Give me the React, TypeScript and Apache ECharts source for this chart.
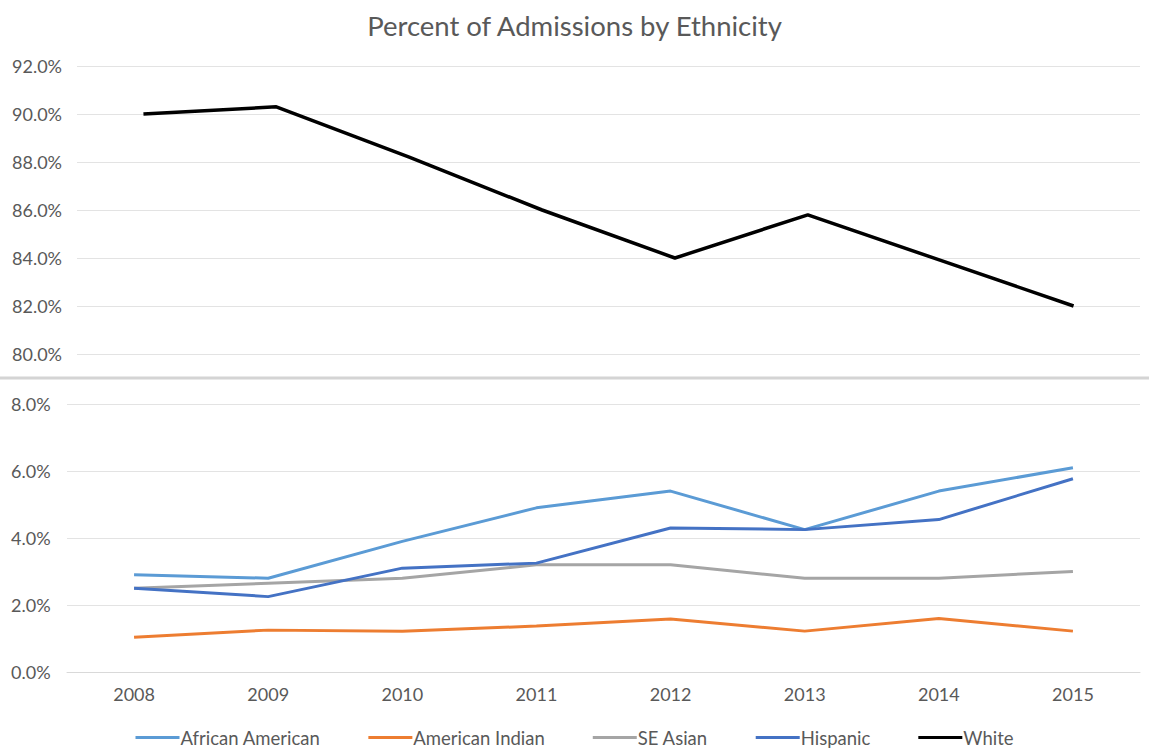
import React, { useEffect, useRef } from "react";
import * as echarts from "echarts";

const years = ["2008", "2009", "2010", "2011", "2012", "2013", "2014", "2015"];
const white = [90.0, 90.3, 88.2, 86.0, 84.0, 85.8, 83.9, 82.0];
const africanAmerican = [2.9, 2.8, 3.9, 4.9, 5.4, 4.25, 5.4, 6.1];
const americanIndian = [1.04, 1.25, 1.22, 1.37, 1.58, 1.22, 1.6, 1.22];
const seAsian = [2.5, 2.65, 2.8, 3.2, 3.2, 2.8, 2.8, 3.0];
const hispanic = [2.5, 2.25, 3.1, 3.25, 4.3, 4.25, 4.55, 5.77];

const FONT = "Lato, 'Open Sans', sans-serif";
const GRAY = "#595959";

export default function App() {
  const ref = useRef<HTMLDivElement>(null);
  useEffect(() => {
    if (!ref.current) return;
    const chart = echarts.init(ref.current, undefined, { renderer: "svg" });
    const fmt = (v: number) => v.toFixed(1) + "%";
    const yAxis = (gridIndex: number, min: number, max: number, margin: number) => ({
      type: "value",
      gridIndex,
      min,
      max,
      interval: 2,
      axisLine: { show: false },
      axisTick: { show: false },
      axisLabel: {
        formatter: fmt,
        color: GRAY,
        fontSize: 18,
        fontFamily: FONT,
        margin,
        align: "left",
      },
      splitLine: { lineStyle: { color: "#e3e3e3", width: 1 } },
    });
    const line = (name: string, data: number[], color: string, idx: number, width = 3) => ({
      name,
      type: "line",
      data,
      xAxisIndex: idx,
      yAxisIndex: idx,
      symbol: "none",
      lineStyle: { color, width },
      itemStyle: { color },
    });
    chart.setOption({
      animation: false,
      backgroundColor: "#ffffff",
      title: {
        text: "Percent of Admissions by Ethnicity",
        left: "center",
        top: 6,
        textStyle: { color: GRAY, fontSize: 27.5, fontWeight: "normal", fontFamily: FONT },
      },
      grid: [
        { left: 77, right: 9, top: 66, height: 288 },
        { left: 67, right: 9, top: 404, height: 268 },
      ],
      xAxis: [
        { type: "category", data: years, gridIndex: 0, show: false, boundaryGap: true },
        {
          type: "category",
          data: years,
          gridIndex: 1,
          boundaryGap: true,
          axisLine: { lineStyle: { color: "#d9d9d9" } },
          axisTick: { show: false },
          axisLabel: { color: GRAY, fontSize: 18, fontFamily: FONT, margin: 13 },
        },
      ],
      yAxis: [yAxis(0, 80, 92, 65), yAxis(1, 0, 8, 56)],
      legend: {
        bottom: 0,
        left: "center",
        icon: "rect",
        itemWidth: 44,
        itemHeight: 3,
        itemGap: 48,
        textStyle: { color: GRAY, fontSize: 18.5, fontFamily: FONT, padding: [0, 0, 0, -4] },
        data: ["African American", "American Indian", "SE Asian", "Hispanic", "White"],
      },
      graphic: [
        {
          type: "line",
          shape: { x1: 0, y1: 378, x2: 1149, y2: 378 },
          style: { stroke: "#d4d4d4", lineWidth: 3 },
        },
      ],
      series: [
        line("African American", africanAmerican, "#5B9BD5", 1),
        line("American Indian", americanIndian, "#ED7D31", 1),
        line("SE Asian", seAsian, "#A5A5A5", 1),
        line("Hispanic", hispanic, "#4472C4", 1),
        line("White", white, "#000000", 0, 3.5),
      ],
    });
    return () => chart.dispose();
  }, []);
  return (
    <div
      ref={ref}
      style={{ position: "fixed", left: 0, top: 0, width: 1149, height: 752 }}
    />
  );
}
